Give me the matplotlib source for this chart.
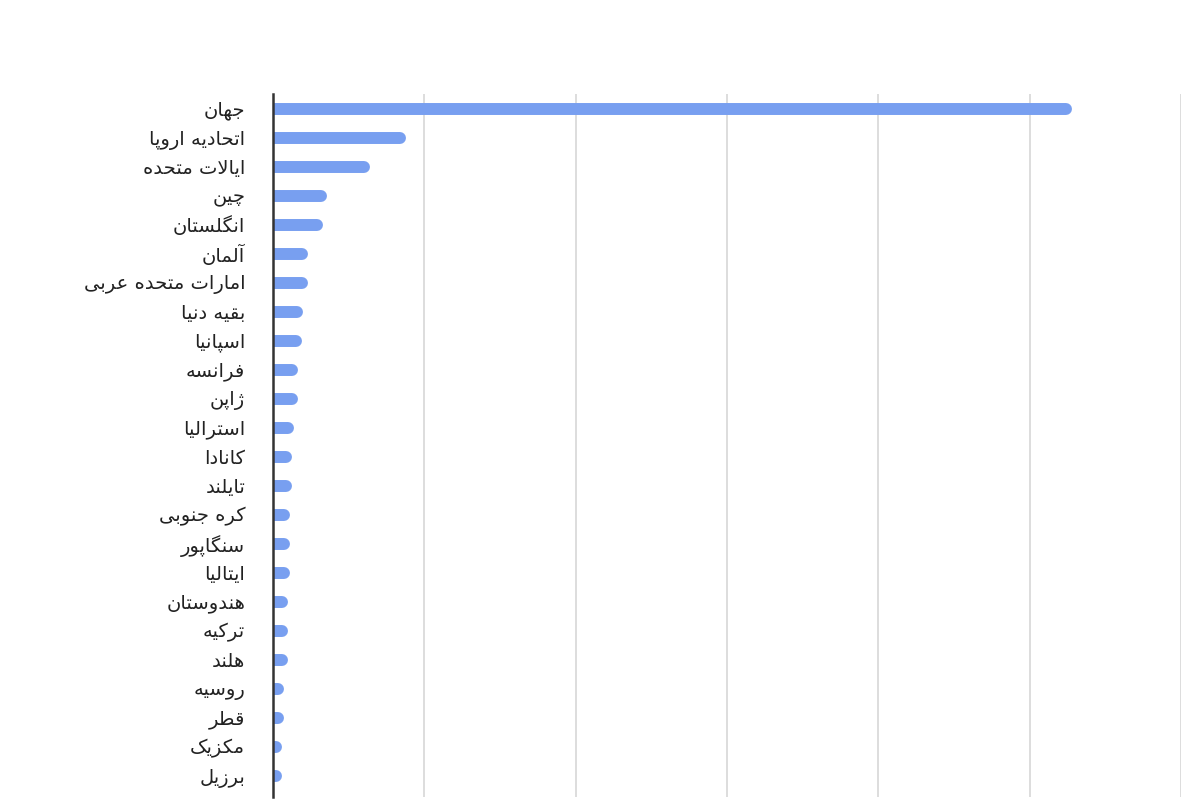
import matplotlib
matplotlib.use('Agg')
import matplotlib.pyplot as plt
import numpy as np

countries = ['جهان', 'اتحادیه اروپا', 'ایالات متحده', 'چین', 'انگلستان', 'آلمان',
             'امارات متحده عربی', 'بقیه دنیا', 'اسپانیا', 'فرانسه', 'ژاپن', 'استرالیا',
             'کانادا', 'تایلند', 'کره جنوبی', 'سنگاپور', 'ایتالیا', 'هندوستان',
             'ترکیه', 'هلند', 'روسیه', 'قطر', 'مکزیک', 'برزیل']
values = [52.4, 8.4, 6.0, 3.2, 2.9, 1.9, 1.9, 1.6, 1.5, 1.25, 1.25, 1.0,
          0.85, 0.85, 0.7, 0.7, 0.7, 0.58, 0.58, 0.58, 0.33, 0.33, 0.2, 0.2]
xticks = [0, 10, 20, 30, 40, 50, 60]

# small persian shaper (isolated, final, initial, medial); None = joins on right only
FORMS = {
    'ا': ('\uFE8D', '\uFE8E', None, None), 'آ': ('\uFE81', '\uFE82', None, None),
    'ب': ('\uFE8F', '\uFE90', '\uFE91', '\uFE92'), 'پ': ('\uFB56', '\uFB57', '\uFB58', '\uFB59'),
    'ت': ('\uFE95', '\uFE96', '\uFE97', '\uFE98'), 'ج': ('\uFE9D', '\uFE9E', '\uFE9F', '\uFEA0'),
    'چ': ('\uFB7A', '\uFB7B', '\uFB7C', '\uFB7D'), 'ح': ('\uFEA1', '\uFEA2', '\uFEA3', '\uFEA4'),
    'د': ('\uFEA9', '\uFEAA', None, None), 'ر': ('\uFEAD', '\uFEAE', None, None),
    'ز': ('\uFEAF', '\uFEB0', None, None), 'ژ': ('\uFB8A', '\uFB8B', None, None),
    'س': ('\uFEB1', '\uFEB2', '\uFEB3', '\uFEB4'), 'ط': ('\uFEC1', '\uFEC2', '\uFEC3', '\uFEC4'),
    'ع': ('\uFEC9', '\uFECA', '\uFECB', '\uFECC'), 'ف': ('\uFED1', '\uFED2', '\uFED3', '\uFED4'),
    'ق': ('\uFED5', '\uFED6', '\uFED7', '\uFED8'), 'ک': ('\uFB8E', '\uFB8F', '\uFB90', '\uFB91'),
    'گ': ('\uFB92', '\uFB93', '\uFB94', '\uFB95'), 'ل': ('\uFEDD', '\uFEDE', '\uFEDF', '\uFEE0'),
    'م': ('\uFEE1', '\uFEE2', '\uFEE3', '\uFEE4'), 'ن': ('\uFEE5', '\uFEE6', '\uFEE7', '\uFEE8'),
    'ه': ('\uFEE9', '\uFEEA', '\uFEEB', '\uFEEC'), 'و': ('\uFEED', '\uFEEE', None, None),
    'ی': ('\uFBFC', '\uFBFD', '\uFBFE', '\uFBFF'),
}
LAM_ALEF = {'ا': ('\uFEFB', '\uFEFC'), 'آ': ('\uFEF5', '\uFEF6')}


def shape(text):
    out = []
    i = 0
    while i < len(text):
        c = text[i]
        prev = text[i - 1] if i > 0 else None
        nxt = text[i + 1] if i + 1 < len(text) else None
        if c not in FORMS:
            out.append(c)
            i += 1
            continue
        jp = prev in FORMS and FORMS[prev][2] is not None
        if c == 'ل' and nxt in LAM_ALEF:
            out.append(LAM_ALEF[nxt][1 if jp else 0])
            i += 2
            continue
        jn = nxt in FORMS and FORMS[c][2] is not None
        f = FORMS[c]
        if jp and jn:
            out.append(f[3])
        elif jp:
            out.append(f[1])
        elif jn:
            out.append(f[2])
        else:
            out.append(f[0])
        i += 1
    return ''.join(out[::-1])


plt.rcParams['font.family'] = ['DejaVu Sans']

fig = plt.figure(figsize=(12, 8), dpi=100)
ax = fig.add_axes([273 / 1200, 3 / 800, (1181 - 273) / 1200, (797 - 94) / 800])

y = np.arange(len(countries))
ax.hlines(y, 0, values, colors='#789ff0', linewidth=8.6, capstyle='round', zorder=3)

ax.set_xlim(0, 60)
ax.set_xticks(xticks)
ax.set_xticklabels([])
ax.set_ylim(-0.5 + (797 - 94) / 29, -0.5)
ax.set_yticks(y)
ax.set_yticklabels([shape(c) for c in countries], fontsize=14, color='#222222')
ax.tick_params(axis='both', length=0)
ax.tick_params(axis='y', pad=20)
ax.grid(axis='x', color='#dddddd', linewidth=1.4, zorder=0)

for s in ['top', 'right', 'bottom']:
    ax.spines[s].set_visible(False)
ax.spines['left'].set_color('#333333')
ax.spines['left'].set_linewidth(1.8)
ax.spines['left'].set_zorder(4)

fig.savefig('out.png', dpi=100)
